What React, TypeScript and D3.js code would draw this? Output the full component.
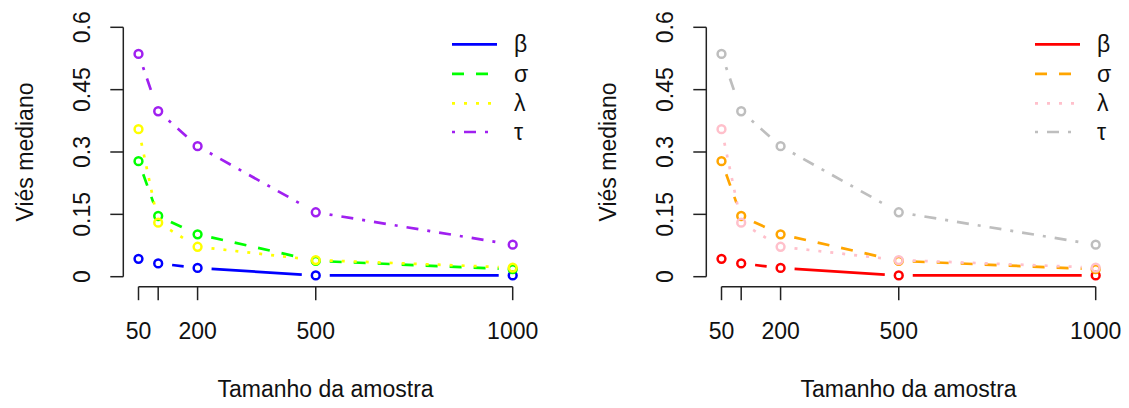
import React from "react";
import * as d3 from "d3";

const sampleSizes = [50, 100, 200, 500, 1000];
const xTickValues = [50, 100, 200, 500, 1000];
const xTickLabels = ["50", "", "200", "500", "1000"];
const yTickValues = [0, 0.15, 0.3, 0.45, 0.6];
const yTickLabels = ["0", "0.15", "0.3", "0.45", "0.6"];

const betaBias = [0.043, 0.032, 0.021, 0.003, 0.003];
const sigmaBias = [0.278, 0.146, 0.102, 0.038, 0.018];
const lambdaBias = [0.355, 0.13, 0.072, 0.04, 0.022];
const tauBias = [0.536, 0.398, 0.314, 0.155, 0.077];

const seriesNames = ["β", "σ", "λ", "τ"];
const seriesValues = [betaBias, sigmaBias, lambdaBias, tauBias];
const leftColors = ["#0000FF", "#00FF00", "#FFFF00", "#A020F0"];
const rightColors = ["#FF0000", "#FFA500", "#FFC0CB", "#BEBEBE"];
const dashes = ["none", "12 12", "3 9", "3 9 12 9"];

const yLabel = "Viés mediano";
const xLabel = "Tamanho da amostra";

const FONT = "'Liberation Sans', Arial, Helvetica, sans-serif";
const FS = 23;
const LW = 2.7;
const GAP = 14;

function Panel({ dx, colors }: { dx: number; colors: string[] }) {
  const x = d3.scaleLinear().domain([50, 1000]).range([138.5 + dx, 512.7 + dx]);
  const y = d3.scaleLinear().domain([0, 0.6]).range([276.7, 27.3]);
  const axisX = 123.3 + dx;
  const axisY = 286.7;
  const plotCenterX = (x(50) + x(1000)) / 2;
  const plotCenterY = (y(0) + y(0.6)) / 2;

  const segs = seriesValues.map((vals, si) => {
    const out: { x1: number; y1: number; x2: number; y2: number }[] = [];
    for (let i = 0; i < vals.length - 1; i++) {
      const ax = x(sampleSizes[i]);
      const ay = y(vals[i]);
      const bx = x(sampleSizes[i + 1]);
      const by = y(vals[i + 1]);
      const len = Math.hypot(bx - ax, by - ay);
      if (len <= 2 * GAP) continue;
      const ux = (bx - ax) / len;
      const uy = (by - ay) / len;
      out.push({ x1: ax + ux * GAP, y1: ay + uy * GAP, x2: bx - ux * GAP, y2: by - uy * GAP });
    }
    return out;
  });

  const legX1 = 452 + dx;
  const legX2 = 497 + dx;
  const legY = [44.3, 73.8, 103.3, 132];

  return (
    <g>
      {/* y axis */}
      <line x1={axisX} x2={axisX} y1={y(0)} y2={y(0.6)} stroke="#222" strokeWidth={1.5} />
      {yTickValues.map((v, i) => (
        <g key={"yt" + i}>
          <line x1={axisX - 13} x2={axisX} y1={y(v)} y2={y(v)} stroke="#222" strokeWidth={1.5} />
          <text
            transform={`translate(${90 + dx},${y(v)}) rotate(-90)`}
            textAnchor="middle"
            fontFamily={FONT}
            fontSize={FS}
            fill="#111"
          >
            {yTickLabels[i]}
          </text>
        </g>
      ))}
      {/* x axis */}
      <line x1={x(50)} x2={x(1000)} y1={axisY} y2={axisY} stroke="#222" strokeWidth={1.5} />
      {xTickValues.map((v, i) => (
        <g key={"xt" + i}>
          <line x1={x(v)} x2={x(v)} y1={axisY} y2={axisY + 13.5} stroke="#222" strokeWidth={1.5} />
          {xTickLabels[i] && (
            <text x={x(v)} y={339} textAnchor="middle" fontFamily={FONT} fontSize={FS} fill="#111">
              {xTickLabels[i]}
            </text>
          )}
        </g>
      ))}
      <text x={plotCenterX} y={397} textAnchor="middle" fontFamily={FONT} fontSize={FS} fill="#111">
        {xLabel}
      </text>
      <text
        transform={`translate(${33 + dx},${plotCenterY}) rotate(-90)`}
        textAnchor="middle"
        fontFamily={FONT}
        fontSize={FS}
        fill="#111"
      >
        {yLabel}
      </text>
      {/* series */}
      {seriesValues.map((vals, si) => (
        <g key={"s" + si}>
          {segs[si].map((s, k) => (
            <line
              key={k}
              x1={s.x1}
              y1={s.y1}
              x2={s.x2}
              y2={s.y2}
              stroke={colors[si]}
              strokeWidth={LW}
              strokeDasharray={dashes[si]}
            />
          ))}
          {vals.map((v, k) => (
            <circle
              key={"c" + k}
              cx={x(sampleSizes[k])}
              cy={y(v)}
              r={3.9}
              fill="none"
              stroke={colors[si]}
              strokeWidth={2.5}
            />
          ))}
        </g>
      ))}
      {/* legend */}
      {seriesNames.map((name, i) => (
        <g key={"lg" + i}>
          <line
            x1={legX1}
            x2={legX2}
            y1={legY[i]}
            y2={legY[i]}
            stroke={colors[i]}
            strokeWidth={LW}
            strokeDasharray={dashes[i]}
          />
          <text x={514 + dx} y={legY[i] + 8} fontFamily={FONT} fontSize={FS} fill="#111">
            {name}
          </text>
        </g>
      ))}
    </g>
  );
}

export default function App() {
  return (
    <svg
      width={1129}
      height={408}
      style={{ position: "absolute", left: 0, top: 0, display: "block", background: "#fff" }}
    >
      <rect width={1129} height={408} fill="#fff" />
      <Panel dx={0} colors={leftColors} />
      <Panel dx={583} colors={rightColors} />
    </svg>
  );
}
